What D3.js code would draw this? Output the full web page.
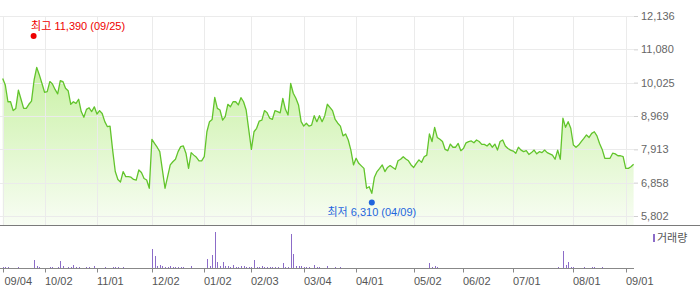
<!DOCTYPE html>
<html>
<head>
<meta charset="utf-8">
<script src="https://cdn.jsdelivr.net/npm/d3@7"></script>
<style>
    body { margin: 0; background: #fff; }
    svg text { font-family: "Liberation Sans", Arial, "Noto Sans CJK KR", sans-serif; }
</style>
</head>
<body>
<svg id="chart" width="700" height="289"></svg>
<script>
// daily close, one value per trading day (09/04 .. 09/04)
var prices = [
    10160, 9950, 9420, 9420, 9140, 9210, 9790, 9500, 9210, 9210,
    9340, 9440, 10110, 10510, 10270, 10000, 9720, 9740, 10060, 9980,
    9810, 9670, 10090, 10060, 9850, 9770, 9340, 9420, 9370, 9500,
    9110, 8930, 9180, 9230, 9110, 9260, 9030, 9140, 9050, 8790,
    8630, 8650, 7890, 7210, 6960, 6880, 7210, 7050, 7050, 7030,
    6960, 6940, 7260, 7180, 6990, 6940, 6680, 8230, 8100, 7980,
    7840, 7260, 6680, 7050, 7420, 7520, 7600, 7840, 8000, 8020,
    7790, 7310, 7810, 7730, 7660, 7550, 7550, 7680, 8470, 8790,
    8860, 9560, 9210, 9160, 8840, 8950, 9340, 9260, 9420, 9420,
    9320, 9550, 9420, 9160, 8530, 7910, 8470, 8580, 8810, 8840,
    9140, 9070, 8900, 8860, 9140, 9110, 9070, 9530, 9180, 9000,
    10000, 9690, 9530, 9320, 8790, 8650, 8740, 8650, 8680, 8980,
    8790, 8980, 8790, 8970, 9340, 9240, 9140, 8860, 8740, 8650,
    8340, 8400, 8210, 7890, 7420, 7630, 7470, 7390, 7310, 6680,
    6730, 6520, 7030, 7210, 7310, 7420, 7210, 7340, 7400, 7340,
    7280, 7550, 7600, 7680, 7610, 7550, 7420, 7340, 7470, 7580,
    7500, 7680, 7730, 8400, 8160, 8610, 8290, 8230, 8160, 7910,
    7870, 8080, 7980, 7980, 8100, 7870, 7940, 8120, 8160, 8180,
    8120, 8210, 8160, 8070, 8070, 8020, 8100, 7980, 8080, 7890,
    8160, 8210, 8020, 7940, 7890, 7860, 7790, 7980, 7890, 7840,
    7870, 7750, 7810, 7890, 7770, 7840, 7810, 7890, 7810, 7770,
    7730, 7600, 7890, 7600, 8900, 8610, 8790, 8580, 8050, 7980,
    8050, 8160, 8260, 8370, 8290, 8420, 8470, 8340, 8100, 7910,
    7630, 7630, 7630, 7790, 7770, 7710, 7710, 7680, 7310, 7310,
    7360, 7440
];

var volumes = [
    13000, 10000, 10000, 0, 0, 0, 10000, 0, 0, 0,
    0, 0, 83000, 23000, 10000, 0, 0, 0, 10000, 10000,
    0, 10000, 73000, 20000, 0, 10000, 10000, 33000, 10000, 10000,
    0, 0, 10000, 10000, 0, 23000, 0, 0, 0, 10000,
    0, 0, 10000, 10000, 10000, 0, 10000, 0, 0, 0,
    0, 0, 0, 0, 0, 0, 0, 193000, 123000, 17000,
    33000, 20000, 13000, 13000, 23000, 15000, 15000, 15000, 15000, 15000,
    0, 0, 23000, 0, 0, 0, 0, 0, 90000, 23000,
    133000, 360000, 63000, 17000, 60000, 23000, 23000, 13000, 33000, 13000,
    13000, 23000, 23000, 13000, 13000, 10000, 80000, 10000, 13000, 20000,
    13000, 13000, 13000, 13000, 13000, 13000, 0, 50000, 10000, 10000,
    343000, 137000, 23000, 23000, 17000, 13000, 13000, 10000, 0, 33000,
    13000, 13000, 0, 0, 17000, 0, 0, 10000, 0, 10000,
    0, 0, 0, 0, 0, 0, 0, 0, 0, 0,
    0, 0, 0, 0, 0, 0, 0, 0, 0, 0,
    0, 0, 0, 0, 0, 0, 0, 0, 0, 0,
    0, 0, 0, 53000, 10000, 23000, 10000, 0, 0, 0,
    0, 0, 0, 0, 0, 0, 0, 0, 0, 0,
    0, 0, 0, 0, 0, 0, 0, 0, 0, 0,
    0, 0, 0, 0, 0, 0, 0, 0, 0, 0,
    0, 0, 0, 0, 0, 0, 0, 0, 0, 0,
    0, 0, 10000, 0, 167000, 33000, 60000, 13000, 10000, 0,
    0, 0, 10000, 0, 0, 10000, 10000, 0, 0, 10000,
    0, 0, 0, 0, 0, 0, 0, 0, 0, 0,
    0, 0
];

var tickLabels = ["09/04", "10/02", "11/01", "12/02", "01/02", "02/03", "03/04",
    "04/01", "05/02", "06/02", "07/01", "08/01", "09/01"];
var tickIndex = [0, 16, 36, 57, 77, 95, 115, 135, 157, 176, 195, 218, 238];

var yTicks = [12136, 11080, 10025, 8969, 7913, 6858, 5802];

var highInfo = { index: 12, value: 11390, date: "09/25" };
var lowInfo = { index: 141, value: 6310, date: "04/09" };

var svg = d3.select("#chart");

var x = d3.scaleLinear()
    .domain([0, prices.length - 1])
    .range([2.7, 633.6]);

var y = d3.scaleLinear()
    .domain([5802, 12136])
    .range([216, 16]);

var yVol = d3.scaleLinear()
    .domain([0, 380000])
    .range([268, 230]);

var fmt = d3.format(",");

var defs = svg.append("defs");
var grad = defs.append("linearGradient")
    .attr("id", "areaFill")
    .attr("gradientUnits", "userSpaceOnUse")
    .attr("x1", 0).attr("y1", 50)
    .attr("x2", 0).attr("y2", 225);
grad.append("stop").attr("offset", "0%").attr("stop-color", "#c4f09c");
grad.append("stop").attr("offset", "100%").attr("stop-color", "#f8fdf4");

// price area + line
var area = d3.area()
    .x(function (d, i) { return x(i); })
    .y0(225)
    .y1(function (d) { return y(d); });

svg.append("path")
    .datum(prices)
    .attr("d", area)
    .attr("fill", "url(#areaFill)");

// grid on top of the fill
var grid = svg.append("g").attr("class", "grid");
grid.selectAll("line.h")
    .data(yTicks)
    .enter().append("line")
    .attr("class", "h")
    .attr("x1", 0)
    .attr("x2", 634)
    .attr("y1", function (d) { return Math.round(y(d)) + 0.5; })
    .attr("y2", function (d) { return Math.round(y(d)) + 0.5; })
    .attr("stroke", "#ebebeb");

grid.selectAll("line.v")
    .data(tickIndex)
    .enter().append("line")
    .attr("class", "v")
    .attr("x1", function (d) { return Math.round(x(d)) + 0.5; })
    .attr("x2", function (d) { return Math.round(x(d)) + 0.5; })
    .attr("y1", 16)
    .attr("y2", 225)
    .attr("stroke", "#ebebeb");

var line = d3.line()
    .x(function (d, i) { return x(i); })
    .y(function (d) { return y(d); });

svg.append("path")
    .datum(prices)
    .attr("d", line)
    .attr("fill", "none")
    .attr("stroke", "#62c42c")
    .attr("stroke-width", 1.3)
    .attr("stroke-linejoin", "round");

// right axis
var yAxis = svg.append("g")
    .attr("transform", "translate(634,0)")
    .call(d3.axisRight(y).tickValues(yTicks).tickFormat(fmt).tickSize(4).tickPadding(3));
yAxis.select(".domain").remove();
yAxis.selectAll(".tick line").attr("stroke", "#d0d0d0");
yAxis.selectAll(".tick text")
    .attr("fill", "#666")
    .style("font-size", "11px");

// high / low markers
svg.append("circle")
    .attr("cx", x(highInfo.index) - 0.5)
    .attr("cy", y(highInfo.value) - 3.5)
    .attr("r", 3)
    .attr("fill", "#ee0000");
svg.append("text")
    .attr("x", x(highInfo.index) - 3)
    .attr("y", 30)
    .attr("fill", "#ee0000")
    .style("font-size", "11px")
    .text("최고 " + fmt(highInfo.value) + " (" + highInfo.date + ")");

svg.append("circle")
    .attr("cx", x(lowInfo.index))
    .attr("cy", y(lowInfo.value) + 2.5)
    .attr("r", 3)
    .attr("fill", "#1f66dd");
svg.append("text")
    .attr("x", x(lowInfo.index))
    .attr("y", 215.5)
    .attr("text-anchor", "middle")
    .attr("fill", "#1f66dd")
    .style("font-size", "11px")
    .text("최저 " + fmt(lowInfo.value) + " (" + lowInfo.date + ")");

// separator between price and volume panels
svg.append("line")
    .attr("x1", 0).attr("x2", 700)
    .attr("y1", 225.5).attr("y2", 225.5)
    .attr("stroke", "#7a7a7a");

// volume bars
svg.append("g")
    .selectAll("rect")
    .data(volumes)
    .enter().append("rect")
    .attr("x", function (d, i) { return Math.round(x(i)); })
    .attr("width", 1)
    .attr("y", function (d) { return yVol(d); })
    .attr("height", function (d) { return 268 - yVol(d); })
    .attr("fill", "#8c6cc8")
    .attr("shape-rendering", "crispEdges");

// bottom axis
var xAxis = svg.append("g")
    .attr("transform", "translate(0,268.5)");
xAxis.append("line")
    .attr("x1", 0).attr("x2", 634)
    .attr("stroke", "#888");
var ticks = xAxis.selectAll("g")
    .data(tickIndex)
    .enter().append("g")
    .attr("transform", function (d) { return "translate(" + (Math.round(x(d)) + 0.5) + ",0)"; });
ticks.append("line")
    .attr("y2", 4)
    .attr("stroke", "#888");
ticks.append("text")
    .attr("x", function (d, i) { return i === 0 ? 1 : -0.5; })
    .attr("y", 16)
    .attr("fill", "#555")
    .style("font-size", "11px")
    .text(function (d, i) { return tickLabels[i]; });

// legend
svg.append("rect")
    .attr("x", 653)
    .attr("y", 234)
    .attr("width", 2)
    .attr("height", 8)
    .attr("fill", "#8c6cc8");
svg.append("text")
    .attr("x", 657)
    .attr("y", 242)
    .attr("fill", "#555")
    .style("font-size", "11px")
    .text("거래량");
</script>
</body>
</html>
